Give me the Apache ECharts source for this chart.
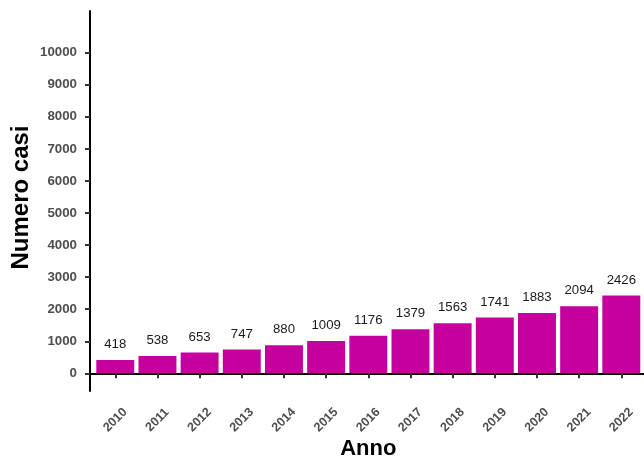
<!DOCTYPE html>
<html>
<head>
<meta charset="utf-8">
<script src="https://cdn.jsdelivr.net/npm/echarts@6/dist/echarts.min.js"></script>
<style>
html,body{margin:0;padding:0;background:#fff;}
#c{width:644px;height:461px;}
</style>
</head>
<body>
<div id="c"></div>
<script>
const years = ['2010','2011','2012','2013','2014','2015','2016','2017','2018','2019','2020','2021','2022'];
const cases = [418,538,653,747,880,1009,1176,1379,1563,1741,1883,2094,2426];
const yTicks = [0,1000,2000,3000,4000,5000,6000,7000,8000,9000,10000];

const FONT = '"Liberation Sans", Arial, Helvetica, sans-serif';
const chart = echarts.init(document.getElementById('c'), null, {renderer:'canvas'});
const yMin = -550, yMax = 11300;
chart.setOption({
  animation: false,
  backgroundColor: '#ffffff',
  textStyle: {fontFamily: FONT},
  grid: [
    {left: 90, top: 11, width: 556.6, height: 380, containLabel: false, outerBoundsMode: 'none'},
    {left: 94.2, top: 11, width: 548.2, height: 380, containLabel: false, outerBoundsMode: 'none'}
  ],
  xAxis: [
    {
      gridIndex: 0, type: 'value', min: 0, max: 1,
      axisLine: {show: true, lineStyle: {color: '#000', width: 2}},
      axisTick: {show: false}, axisLabel: {show: false}, splitLine: {show: false},
      name: 'Anno', nameLocation: 'middle', nameGap: 47, nameMoveOverlap: false,
      nameTextStyle: {fontFamily: FONT, fontSize: 22, fontWeight: 'bold', color: '#000'}
    },
    {
      gridIndex: 1, type: 'category', data: years,
      axisLine: {show: false},
      axisTick: {show: true, alignWithLabel: true, length: 5, lineStyle: {color: '#333', width: 2}},
      axisLabel: {rotate: 45, align: 'center', verticalAlign: 'middle', margin: 29,
        fontFamily: FONT, fontSize: 12.5, fontWeight: 'bold', color: '#4d4d4d', interval: 0},
      splitLine: {show: false}
    }
  ],
  yAxis: [
    {
      gridIndex: 0, type: 'value', min: yMin, max: yMax,
      axisLine: {show: true, lineStyle: {color: '#000', width: 2}},
      axisTick: {show: true, length: 5, lineStyle: {color: '#333', width: 2}, customValues: yTicks},
      axisLabel: {margin: 13, fontFamily: FONT, fontSize: 13.3, fontWeight: 'bold', color: '#4d4d4d',
        customValues: yTicks, formatter: v => String(v)},
      splitLine: {show: false},
      name: 'Numero casi', nameLocation: 'middle', nameGap: 57, nameMoveOverlap: false,
      nameTextStyle: {fontFamily: FONT, fontSize: 24, fontWeight: 'bold', color: '#000', padding: [0, 0, 0, 7]}
    },
    {
      gridIndex: 1, type: 'value', min: yMin, max: yMax,
      axisLine: {show: false}, axisTick: {show: false}, axisLabel: {show: false}, splitLine: {show: false}
    }
  ],
  series: [{
    type: 'bar',
    xAxisIndex: 1, yAxisIndex: 1,
    data: cases,
    barCategoryGap: '10%',
    itemStyle: {color: '#C6009F'},
    label: {show: true, position: 'top', distance: 9, fontFamily: FONT, fontSize: 13.2, color: '#1a1a1a'}
  }]
});
</script>
</body>
</html>
